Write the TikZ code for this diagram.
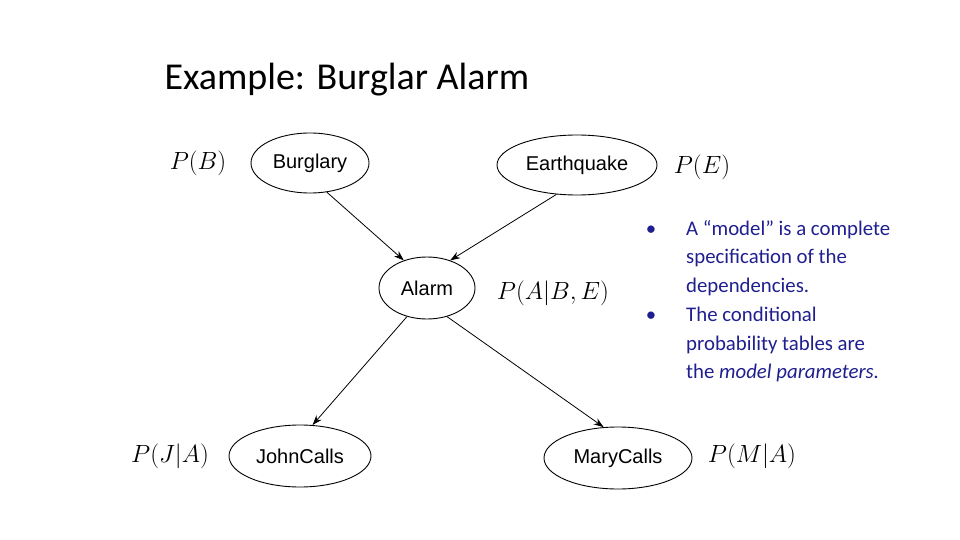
\documentclass[tikz,border=0pt]{standalone}
\usepackage{fontspec}
\setmainfont{Carlito}
\newfontfamily\nodefont{Liberation Sans}
\usetikzlibrary{shapes.geometric,arrows.meta}
\definecolor{txtblue}{HTML}{1F1F8F}
\begin{document}
\begin{tikzpicture}[x=1pt,y=-1pt,
  bn/.style={ellipse,draw,line width=0.9pt,inner sep=0pt,font=\nodefont\fontsize{20}{20}\selectfont},
  lab/.style={font=\fontsize{28}{28}\selectfont},
  arr/.style={-{Stealth[length=10pt,width=7pt]},line width=0.8pt}]
\useasboundingbox (0,0) rectangle (960,540);
\node[anchor=west,font=\fontsize{38}{38}\selectfont] (title) at (161,80) {Example: Burglar Alarm};
\node[bn,minimum width=118,minimum height=60] (b) at (310,163) {Burglary};
\node[bn,minimum width=160,minimum height=60] (e) at (577,165) {Earthquake};
\node[bn,minimum width=96,minimum height=62] (a) at (427,288) {Alarm};
\node[bn,minimum width=142,minimum height=62] (j) at (300,456) {JohnCalls};
\node[bn,minimum width=148,minimum height=62] (m) at (618,458) {MaryCalls};
\node[lab] (pb) at (198,163) {$P(B)$};
\node[lab] (pe) at (702,167) {$P(E)$};
\node[lab] (pa) at (553,293) {$P(A|B,E)$};
\node[lab] (pj) at (170,456) {$P(J|A)$};
\node[lab] (pm) at (752,456) {$P(M|A)$};
\draw[arr] (b.-60) -- (a.130);
\draw[arr] (e.-125) -- (a.50);
\draw[arr] (a.-125) -- (j.68);
\draw[arr] (a.-55) -- (m.115);
\node[anchor=north west,align=left,inner sep=0pt,color=txtblue,font=\fontsize{20.8}{28.7}\selectfont] (txt) at (686,220) {%
\makebox[0pt][r]{\textbullet\hspace{30pt}}A “model” is a complete\\
specification of the\\
dependencies.\\
\makebox[0pt][r]{\textbullet\hspace{30pt}}The conditional\\
probability tables are\\
the \emph{model parameters.}};
\end{tikzpicture}
\end{document}
